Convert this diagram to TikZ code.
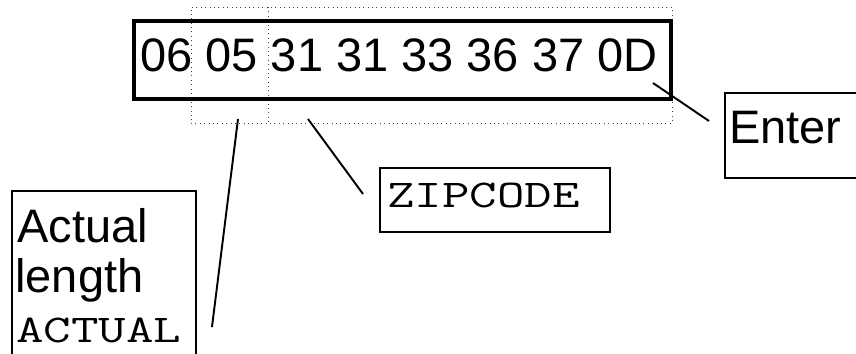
\documentclass[tikz,border=0pt]{standalone}
\usepackage{fontspec}
\setmainfont{Liberation Sans}
\setmonofont{Latin Modern Mono}[FakeStretch=1.36]
\usetikzlibrary{calc}

\begin{document}
\begin{tikzpicture}[x=0.02cm,y=-0.02cm,
  big/.style={font=\fontsize{26.74}{28.45}\selectfont,inner sep=0pt},
  bigtt/.style={font=\fontsize{22.36}{28.45}\ttfamily,inner sep=0pt},
  frame/.style={draw,line width=1.1pt,inner sep=0pt},
  guide/.style={draw=black!75,dotted,line width=0.5pt},
  lead/.style={line width=1.1pt}]
  \useasboundingbox (0,0) rectangle (856,353);
  \clip (0,0) rectangle (856,353);
  \node[guide,inner sep=0pt,minimum width=481*0.02cm,minimum height=116*0.02cm] (span) at (431.5,65) {};
  \draw[guide] (268.5,7) -- (268.5,123);
  \node[draw,line width=2.5pt,inner sep=0pt,minimum width=537*0.02cm,minimum height=78*0.02cm] (bytes) at (402.5,60) {};
  \node[big,anchor=base west] (hex) at (140,71) {06 05 31 31 33 36 37 0D};
  \node[frame,minimum width=175*0.02cm,minimum height=85*0.02cm] (enter) at (812.5,135.5) {};
  \node[big,anchor=base west] (entertxt) at (729,143) {Enter};
  \node[frame,minimum width=230*0.02cm,minimum height=64*0.02cm] (zip) at (495,200) {};
  \node[bigtt,anchor=base west] (ziptxt) at (387,207) {ZIPCODE};
  \node[frame,minimum width=184*0.02cm,minimum height=200*0.02cm] (len) at (104,291) {};
  \node[big,anchor=base west] (lenA) at (17,242) {Actual};
  \node[big,anchor=base west] (lenB) at (15,292) {length};
  \node[bigtt,anchor=base west] (lenC) at (16,342) {ACTUAL};
  \coordinate (lenfrom) at (238,119);
  \coordinate (lento) at ($(len.north east)+(15,137)$);
  \coordinate (zipfrom) at (308,119);
  \coordinate (zipto) at ($(zip.west)+(-16,-6)$);
  \coordinate (enterfrom) at (653,83);
  \coordinate (enterto) at ($(enter.west)+(-15,-14.5)$);
  \draw[lead] (lenfrom) -- (lento);
  \draw[lead] (zipfrom) -- (zipto);
  \draw[lead] (enterfrom) -- (enterto);
\end{tikzpicture}
\end{document}
